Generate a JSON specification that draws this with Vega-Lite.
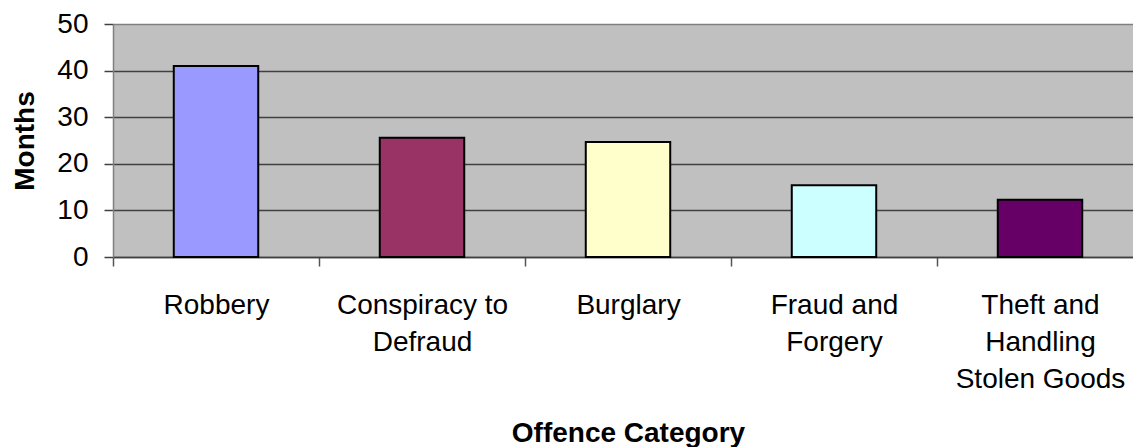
{
  "$schema": "https://vega.github.io/schema/vega-lite/v6.json",
  "autosize": {"type": "none"},
  "width": 1020,
  "height": 233,
  "padding": {"left": 113, "top": 24, "right": 0, "bottom": 190},
  "background": "white",
  "config": {
    "view": {"fill": "#C0C0C0", "stroke": null},
    "font": "Liberation Sans"
  },
  "data": {
    "values": [
      {"category": "Robbery", "months": 41.0},
      {"category": "Conspiracy to Defraud", "months": 25.6},
      {"category": "Burglary", "months": 24.7},
      {"category": "Fraud and Forgery", "months": 15.4},
      {"category": "Theft and Handling Stolen Goods", "months": 12.3}
    ]
  },
  "mark": {"type": "bar", "stroke": "black", "strokeWidth": 2},
  "encoding": {
    "x": {
      "field": "category",
      "type": "nominal",
      "sort": null,
      "scale": {"range": [0, 1030], "paddingInner": 0.59, "paddingOuter": 0.295},
      "axis": {
        "title": "Offence Category",
        "titleFont": "Liberation Sans",
        "titleFontSize": 28,
        "titleFontWeight": "bold",
        "titleColor": "black",
        "titleBaseline": "alphabetic",
        "titleY": 184,
        "labelAngle": 0,
        "labelFont": "Liberation Sans",
        "labelFontSize": 28,
        "labelColor": "black",
        "labelLineHeight": 37,
        "labelBaseline": "top",
        "labelPadding": 25,
        "labelExpr": "datum.value == 'Conspiracy to Defraud' ? ['Conspiracy to', 'Defraud'] : datum.value == 'Fraud and Forgery' ? ['Fraud and', 'Forgery'] : datum.value == 'Theft and Handling Stolen Goods' ? ['Theft and', 'Handling', 'Stolen Goods'] : datum.value",
        "labelOverlap": false,
        "labelLimit": 0,
        "tickBand": "center",
        "tickOffset": -103,
        "labelOffset": 103,
        "tickSize": 9,
        "tickColor": "#555555",
        "tickWidth": 1.5,
        "domainColor": "#404040",
        "domainWidth": 1.5,
        "grid": false
      }
    },
    "y": {
      "field": "months",
      "type": "quantitative",
      "scale": {"domain": [0, 50], "nice": false},
      "axis": {
        "title": "Months",
        "titleFont": "Liberation Sans",
        "titleFontSize": 28,
        "titleFontWeight": "bold",
        "titleColor": "black",
        "titleBaseline": "alphabetic",
        "titleX": -80,
        "values": [0, 10, 20, 30, 40, 50],
        "labelFont": "Liberation Sans",
        "labelFontSize": 28,
        "labelColor": "black",
        "labelPadding": 16,
        "tickSize": 9,
        "tickColor": "#404040",
        "tickWidth": 1.5,
        "domainColor": "#808080",
        "domainWidth": 1.5,
        "grid": true,
        "gridColor": {"condition": {"test": "datum.value == 50", "value": "#808080"}, "value": "#404040"},
        "gridWidth": 1.5,
        "gridOpacity": 1
      }
    },
    "color": {
      "field": "category",
      "type": "nominal",
      "sort": null,
      "scale": {
        "domain": ["Robbery", "Conspiracy to Defraud", "Burglary", "Fraud and Forgery", "Theft and Handling Stolen Goods"],
        "range": ["#9999FF", "#993366", "#FFFFCC", "#CCFFFF", "#660066"]
      },
      "legend": null
    }
  }
}
